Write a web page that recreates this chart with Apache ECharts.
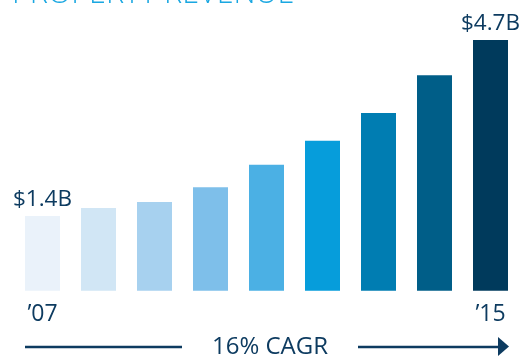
<!DOCTYPE html>
<html>
<head>
<meta charset="utf-8">
<script src="https://cdn.jsdelivr.net/npm/echarts@6/dist/echarts.min.js"></script>
<style>
  html, body { margin: 0; padding: 0; background: #fff; }
  #chart { width: 521px; height: 356px; }
</style>
</head>
<body>
<div id="chart"></div>
<script>
// Property revenue by year, in billions of dollars
const years = ['’07', '’08', '’09', '’10', '’11', '’12', '’13', '’14', '’15'];
const revenue = [1.4, 1.55, 1.66, 1.94, 2.36, 2.81, 3.33, 4.04, 4.7];
const barColors = ['#EAF2FA', '#D1E6F5', '#A7D1EF', '#7EBFEA', '#4BB0E4', '#069DDB', '#007DB2', '#005E88', '#003A5C'];
const endLabels = ['$1.4B', '$4.7B'];
const cagrText = '16% CAGR';
const titleText = 'PROPERTY REVENUE';

const navy = '#0D3B60';
const fontFamily = '"Open Sans", "Noto Sans", sans-serif';

const chart = echarts.init(document.getElementById('chart'), null, { renderer: 'canvas' });

const lastIndex = revenue.length - 1;

chart.setOption({
  animation: false,
  grid: { left: 14.5, right: 2.5, top: 24, bottom: 63, containLabel: false },
  xAxis: {
    type: 'category',
    data: years,
    axisLine: { show: false },
    axisTick: { show: false },
    axisLabel: {
      interval: function (i) { return i === 0 || i === lastIndex; },
      color: navy,
      fontFamily: fontFamily,
      fontSize: 23,
      margin: 10
    }
  },
  yAxis: {
    type: 'value',
    min: -0.044,
    max: 5,
    show: false,
    splitLine: { show: false }
  },
  series: [{
    type: 'bar',
    barWidth: 35,
    data: revenue.map(function (v, i) {
      const item = { value: v, itemStyle: { color: barColors[i] } };
      if (i === 0 || i === lastIndex) {
        item.label = {
          show: true,
          position: 'top',
          distance: 5,
          formatter: i === 0 ? endLabels[0] : endLabels[1],
          color: navy,
          fontFamily: fontFamily,
          fontSize: 22.5
        };
      }
      return item;
    })
  }],
  graphic: [
    {
      type: 'text',
      left: 12,
      top: -21,
      style: {
        text: titleText,
        fill: '#1AA7E1',
        font: '300 30.5px ' + fontFamily
      }
    },
    {
      type: 'line',
      shape: { x1: 25, y1: 347, x2: 182, y2: 347 },
      style: { stroke: navy, lineWidth: 2.5 }
    },
    {
      type: 'text',
      x: 270,
      y: 347,
      style: {
        text: cagrText,
        fill: navy,
        font: '24px ' + fontFamily,
        align: 'center',
        verticalAlign: 'middle'
      }
    },
    {
      type: 'line',
      shape: { x1: 358, y1: 347, x2: 500, y2: 347 },
      style: { stroke: navy, lineWidth: 2.5 }
    },
    {
      type: 'polygon',
      shape: { points: [[498, 337], [509, 346.5], [498, 356]] },
      style: { fill: navy }
    }
  ]
});
</script>
</body>
</html>
